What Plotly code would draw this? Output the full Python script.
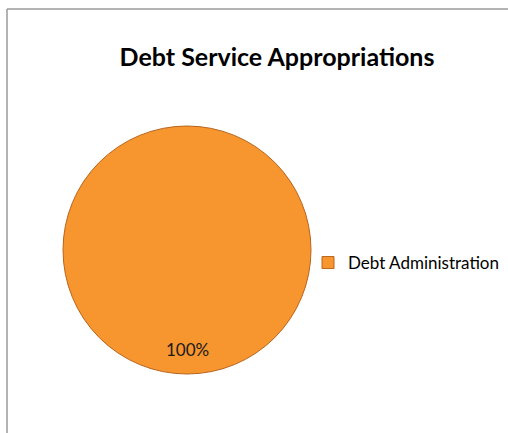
import plotly.graph_objects as go

categories = ["Debt Administration"]
values = [100]
title_text = "Debt Service Appropriations"

W, H = 508, 433
total = sum(values)
pct_labels = [f"{round(v / total * 100)}%" for v in values]
FONT = "Lato, Open Sans, sans-serif"

fig = go.Figure()
fig.add_trace(go.Pie(
    labels=categories,
    values=values,
    sort=False,
    textinfo="none",
    marker=dict(colors=["#F7952F"], line=dict(color="#B8651C", width=1)),
    domain=dict(x=[63 / W, 311 / W], y=[(H - 374) / H, (H - 126) / H]),
    showlegend=True,
    hoverinfo="label+percent",
))

fig.add_annotation(
    x=187 / W, y=(H - 349) / H, xref="paper", yref="paper",
    xanchor="center", yanchor="middle",
    text=pct_labels[0], showarrow=False,
    font=dict(family=FONT, size=17, color="#1a1a1a"),
)

fig.update_layout(
    width=W, height=H,
    margin=dict(l=0, r=0, t=0, b=0, autoexpand=False),
    paper_bgcolor="white",
    plot_bgcolor="white",
    title=dict(
        text="<b>" + title_text + "</b>",
        x=277 / W, xanchor="center",
        y=(H - 57) / H, yanchor="middle",
        font=dict(family=FONT, size=25, color="black"),
    ),
    legend=dict(
        x=308 / W, xanchor="left",
        y=(H - 263) / H, yanchor="middle",
        font=dict(family=FONT, size=17, color="black"),
        bgcolor="rgba(0,0,0,0)",
        itemwidth=30,
    ),
    shapes=[
        dict(type="line", xref="paper", yref="paper",
             x0=7 / W, x1=7 / W, y0=0, y1=(H - 9) / H,
             line=dict(color="#9a9a9a", width=1.5)),
        dict(type="line", xref="paper", yref="paper",
             x0=7 / W, x1=1, y0=(H - 9) / H, y1=(H - 9) / H,
             line=dict(color="#9a9a9a", width=1.5)),
    ],
)

fig.write_html(
    "out.html",
    config={"displayModeBar": False},
    post_script="document.body.style.margin='0';document.body.style.overflow='hidden';",
)
